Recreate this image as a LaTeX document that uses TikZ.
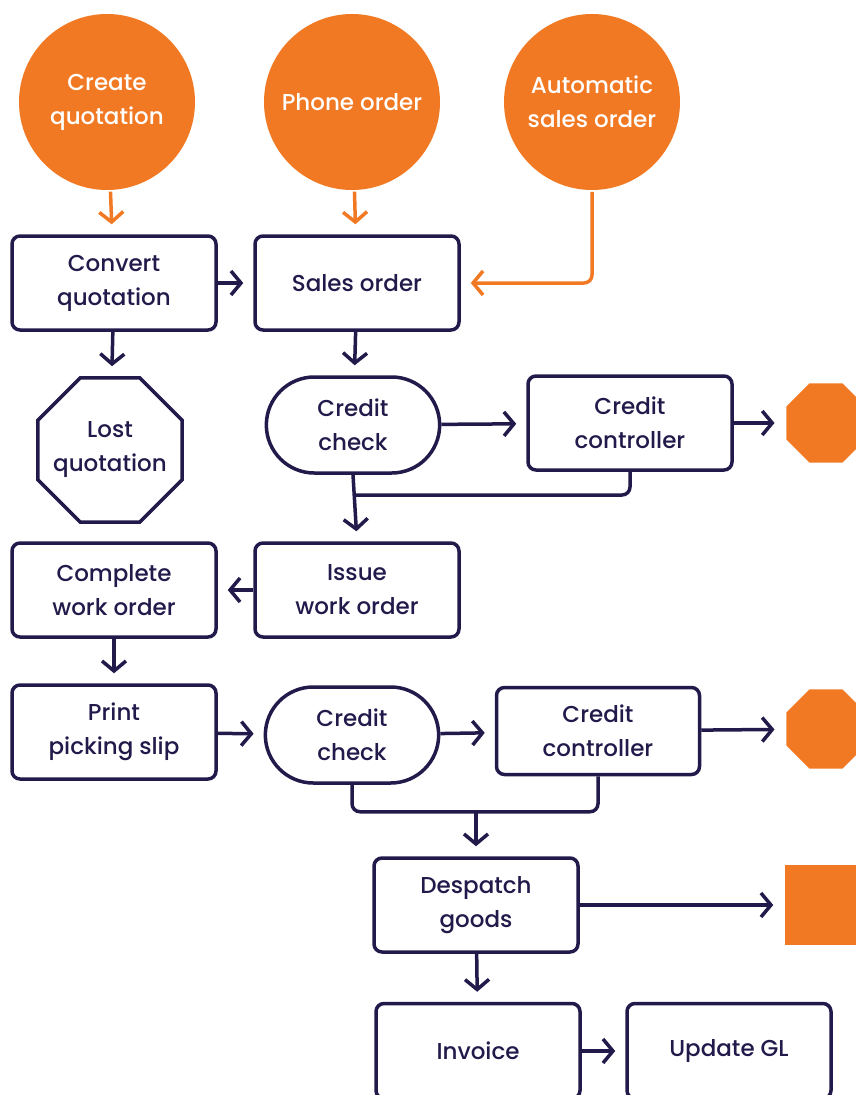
\documentclass[tikz,border=0pt]{standalone}
\usepackage{fontspec}
\setmainfont{Poppins}[UprightFont=* Medium]
\usetikzlibrary{arrows.meta}
\usetikzlibrary{positioning}
\usetikzlibrary{shapes.geometric, shapes.misc}
\definecolor{navy}{RGB}{33,26,74}
\definecolor{brand}{RGB}{242,121,35}

\begin{document}
\begin{tikzpicture}[x=1pt, y=-1pt, line width=3.5pt, >={Straight Barb[length=10pt, width=24pt]}]
	\useasboundingbox (0,0) rectangle (855,1095);
	\begin{scope}[every node/.style={circle, fill=brand, text=white, minimum size=176pt, inner sep=0pt, align=center, font=\fontsize{23}{34}\selectfont}]
		\node (create) at (107,102) {Create\\quotation};
		\node (phone) at (352,102) {Phone order};
		\node (auto) at (592,102) {Automatic\\sales order};
	\end{scope}

	\begin{scope}[every node/.style={draw=navy, text=navy, rounded corners=8pt, minimum width=204pt, minimum height=94pt, align=center, font=\fontsize{23}{34}\selectfont}]
		\node (convert) at (114,283) {Convert\\quotation};
		\node (sales) at (357,283) {Sales order};
		\node (ctrl1) at (630,423) {Credit\\controller};
		\node (complete) at (114,590) {Complete\\work order};
		\node (issue) at (357,590) {Issue\\work order};
		\node (print) at (114,732) {Print\\picking slip};
		\node[minimum width=203pt, minimum height=87pt] (ctrl2) at (598,731) {Credit\\controller};
		\node (despatch) at (476,905) {Despatch\\goods};
		\node[minimum height=95pt] (invoice) at (478,1051) {Invoice};
		\node[minimum height=95pt] (updategl) at (729,1051) {Update GL};
	\end{scope}

	\begin{scope}[every node/.style={draw=navy, text=navy, rounded rectangle, minimum width=180pt, minimum height=96pt, align=center, font=\fontsize{23}{34}\selectfont}]
		\node (check1) at (353,425) {Credit\\check};
		\node (check2) at (352,735) {Credit\\check};
	\end{scope}

	\node[draw=navy, regular polygon, regular polygon sides=8, minimum size=156pt, inner sep=0pt,
	      label={[text=navy, align=center, font=\fontsize{23}{34}\selectfont]center:Lost\\quotation}] (lost) at (110,450) {};
	\node[fill=brand, regular polygon, regular polygon sides=8, minimum size=86pt, inner sep=0pt] (stop1) at (826,423) {};
	\node[fill=brand, regular polygon, regular polygon sides=8, minimum size=86pt, inner sep=0pt] (stop2) at (826,729) {};
	\node[fill=brand, minimum size=80pt, inner sep=0pt] (square) at (825,905) {};

	\coordinate (join1) at (353,495);
	\coordinate (join2) at (476,810);

	\begin{scope}[every path/.style={draw=brand, ->, shorten >=10pt}]
		\path (create) -- (convert);
		\path (phone) -- (sales);
		\path[rounded corners=8pt] (auto.south) |- (sales.east);
	\end{scope}

	\begin{scope}[every path/.style={draw=navy, ->, shorten >=10pt}]
		\path (convert) -- (sales);
		\path (convert) -- (lost);
		\path (sales) -- (check1);
		\path (check1) -- (ctrl1);
		\path (ctrl1) -- (stop1);
		\path (check1.south) -- (issue.north);
		\path (issue) -- (complete);
		\path (complete) -- (print);
		\path (print) -- (check2);
		\path (check2) -- (ctrl2);
		\path (ctrl2) -- (stop2);
		\path (join2) -- (despatch.north);
		\path (despatch) -- (square);
		\path (despatch) -- (invoice);
		\path (invoice) -- (updategl);
	\end{scope}

	\draw[navy, rounded corners=8pt] (ctrl1.south) |- (join1);
	\draw[navy, rounded corners=8pt] (check2.south) -- ++(0,27) -| (ctrl2.south);
\end{tikzpicture}
\end{document}
